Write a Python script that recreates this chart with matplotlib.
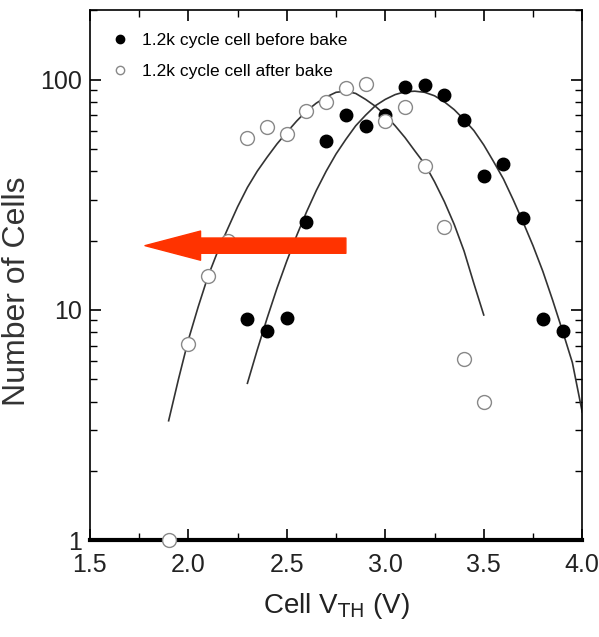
import matplotlib
matplotlib.use("Agg")
import matplotlib.pyplot as plt
from matplotlib.ticker import FixedLocator, NullFormatter, LogLocator

plt.rcParams['font.family'] = ['Liberation Sans', 'DejaVu Sans']

# Measured points
before_x = [2.3, 2.4, 2.5, 2.6, 2.7, 2.8, 2.9, 3.0, 3.1, 3.2, 3.3, 3.4, 3.5, 3.6, 3.7, 3.8, 3.9]
before_y = [9.1, 8.1, 9.2, 24, 54, 70, 63, 70, 93, 95, 86, 67, 38, 43, 25, 9.1, 8.1]
after_x = [1.9, 2.0, 2.1, 2.2, 2.3, 2.4, 2.5, 2.6, 2.7, 2.8, 2.9, 3.0, 3.1, 3.2, 3.3, 3.4, 3.5]
after_y = [1.0, 7.1, 14, 20, 56, 62, 58, 73, 80, 92, 96, 66, 76, 42, 23, 6.1, 4.0]

# Fit curves
fit_before_x = [2.30, 2.35, 2.40, 2.45, 2.50, 2.55, 2.60, 2.65, 2.70, 2.75, 2.80, 2.85,
                2.90, 2.95, 3.00, 3.05, 3.10, 3.15, 3.20, 3.25, 3.30, 3.35, 3.40, 3.45,
                3.50, 3.55, 3.60, 3.65, 3.70, 3.75, 3.80, 3.85, 3.90, 3.95, 4.00]
fit_before_y = [4.8, 6.7, 9.2, 12.4, 16.3, 21, 26.6, 33, 40, 47.5, 55, 63,
                70, 77, 82, 86, 88.5, 89, 88, 85, 80, 74, 67, 60,
                52, 44, 37, 30, 24, 19, 14.7, 11, 8.1, 5.9, 3.6]
fit_after_x = [1.90, 1.95, 2.00, 2.05, 2.10, 2.15, 2.20, 2.25, 2.30, 2.35, 2.40, 2.45,
               2.50, 2.55, 2.60, 2.65, 2.70, 2.75, 2.80, 2.85, 2.90, 2.95, 3.00, 3.05,
               3.10, 3.15, 3.20, 3.25, 3.30, 3.35, 3.40, 3.45, 3.50]
fit_after_y = [3.3, 5.0, 7.4, 10.3, 14, 18, 22.5, 28, 34, 40, 46, 52.5,
               59, 66, 73, 79, 84, 88, 89, 87, 82, 76.5, 70, 63,
               56, 49, 43, 36, 29.5, 23.5, 18, 13, 9.5]

legend_labels = ['1.2k cycle cell before bake', '1.2k cycle cell after bake']
x_ticks = [1.5, 2.0, 2.5, 3.0, 3.5, 4.0]
x_ticklabels = ['1.5', '2.0', '2.5', '3.0', '3.5', '4.0']
y_ticks = [1, 10, 100]
y_ticklabels = ['1', '10', '100']
arrow_from = (2.80, 19)
arrow_to = (1.78, 19)

fig = plt.figure(figsize=(5.99, 6.37), dpi=100)
ax = fig.add_axes([0.150, 0.152, 0.822, 0.832])

ax.plot(fit_before_x, fit_before_y, color='#333333', lw=1.2, zorder=2)
ax.plot(fit_after_x, fit_after_y, color='#333333', lw=1.2, zorder=2)
ax.plot(before_x, before_y, 'o', color='black', ms=9, ls='none', zorder=3,
        label=legend_labels[0])
ax.plot(after_x, after_y, 'o', mfc='white', mec='#888888', mew=1.0, ms=10, ls='none',
        zorder=5, clip_on=False, label=legend_labels[1])

ax.annotate('', xy=arrow_to, xytext=arrow_from,
            arrowprops=dict(arrowstyle='simple,head_length=2.0,head_width=1.05,tail_width=0.55',
                            color='#ff3300', mutation_scale=20, shrinkA=0, shrinkB=0),
            zorder=6)

ax.set_yscale('log')
ax.set_xlim(1.5, 4.0)
ax.set_ylim(1, 200)

ax.xaxis.set_major_locator(FixedLocator(x_ticks))
ax.set_xticklabels(x_ticklabels)
ax.xaxis.set_minor_locator(FixedLocator([1.75, 2.25, 2.75, 3.25, 3.75]))
ax.yaxis.set_major_locator(FixedLocator(y_ticks))
ax.set_yticklabels(y_ticklabels)
ax.yaxis.set_minor_locator(LogLocator(base=10, subs=range(2, 10)))
ax.yaxis.set_minor_formatter(NullFormatter())

ax.tick_params(which='both', direction='in', top=True, right=True, color='black',
               labelsize=18, labelcolor='#222222')
ax.tick_params(axis='x', which='major', pad=9)
ax.tick_params(axis='y', which='major', pad=6)
ax.tick_params(which='major', length=8, width=1.2)
ax.tick_params(which='minor', length=5, width=1.0)

for s in ['left', 'right', 'top']:
    ax.spines[s].set_linewidth(1.2)
ax.spines['bottom'].set_linewidth(3.0)

ax.set_xlabel('Cell V$_{\\mathrm{TH}}$ (V)', fontsize=20, color='#222222', labelpad=10)
ax.set_ylabel('Number of Cells', fontsize=23, color='#333333')
ax.yaxis.set_label_coords(-0.118, 0.47)

leg = ax.legend(loc='upper left', frameon=False, fontsize=12.5, handletextpad=0.7,
                handlelength=1.2, borderaxespad=0.3, labelspacing=0.9,
                bbox_to_anchor=(0.015, 0.98))
for h in leg.legend_handles:
    h.set_markersize(6)

fig.savefig('out.png', dpi=100)
